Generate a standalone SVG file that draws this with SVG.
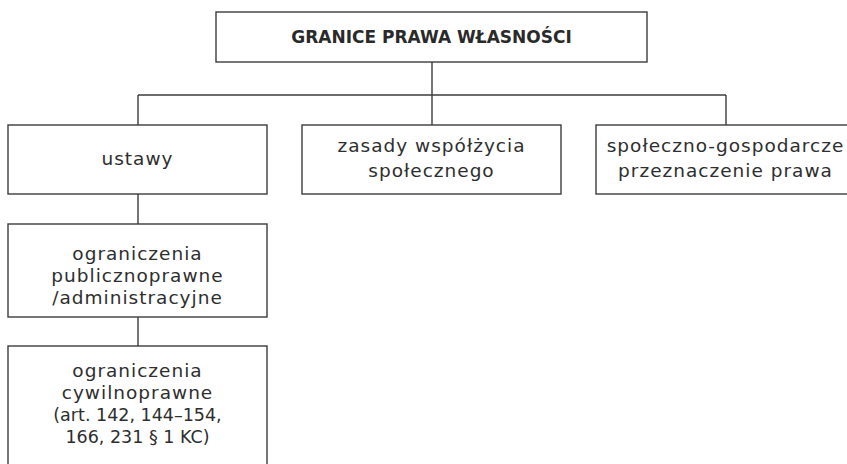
<svg xmlns="http://www.w3.org/2000/svg" width="847" height="464" viewBox="0 0 847 464">
<style>
.box{fill:#fff;stroke:#3c3c3c;stroke-width:1.4}
.ln{fill:none;stroke:#3c3c3c;stroke-width:1.4}
.t{font-family:"DejaVu Sans",sans-serif;font-size:18.5px;fill:#2e2e2e;text-anchor:middle;letter-spacing:1px}
.n{font-size:17.5px;letter-spacing:0px}
.h{font-family:"DejaVu Sans",sans-serif;font-size:17px;font-weight:bold;fill:#2a2a2a;text-anchor:middle}
</style>
<rect width="847" height="464" fill="#fff"/>
<g id="connectors">
<path class="ln" d="M432 62V95M138 95H726M138 95V125M432 95V125M726 95V125M138 194V224M138 317V346"/>
</g>
<g id="root">
<rect class="box" x="216" y="12" width="431" height="50"/>
<text class="h" x="431.5" y="43">GRANICE PRAWA WŁASNOŚCI</text>
</g>
<g id="ustawy">
<rect class="box" x="8" y="125" width="259" height="69"/>
<text class="t" x="137.5" y="165">ustawy</text>
</g>
<g id="zasady">
<rect class="box" x="302" y="125" width="259" height="69"/>
<text class="t" x="431.5" y="152">zasady współżycia</text>
<text class="t" x="431.5" y="177">społecznego</text>
</g>
<g id="przeznaczenie">
<rect class="box" x="596" y="125" width="259" height="69"/>
<text class="t" x="725.5" y="152">społeczno-gospodarcze</text>
<text class="t" x="725.5" y="177">przeznaczenie prawa</text>
</g>
<g id="publiczne">
<rect class="box" x="8" y="224" width="259" height="93"/>
<text class="t" x="137.5" y="260">ograniczenia</text>
<text class="t" x="137.5" y="282">publicznoprawne</text>
<text class="t" x="137.5" y="304">/administracyjne</text>
</g>
<g id="cywilne">
<rect class="box" x="8" y="346" width="259" height="130"/>
<text class="t" x="137.5" y="377">ograniczenia</text>
<text class="t" x="137.5" y="399">cywilnoprawne</text>
<text class="t n" x="137.5" y="421">(art. 142, 144–154,</text>
<text class="t n" x="137.5" y="443">166, 231 § 1 KC)</text>
</g>
</svg>
